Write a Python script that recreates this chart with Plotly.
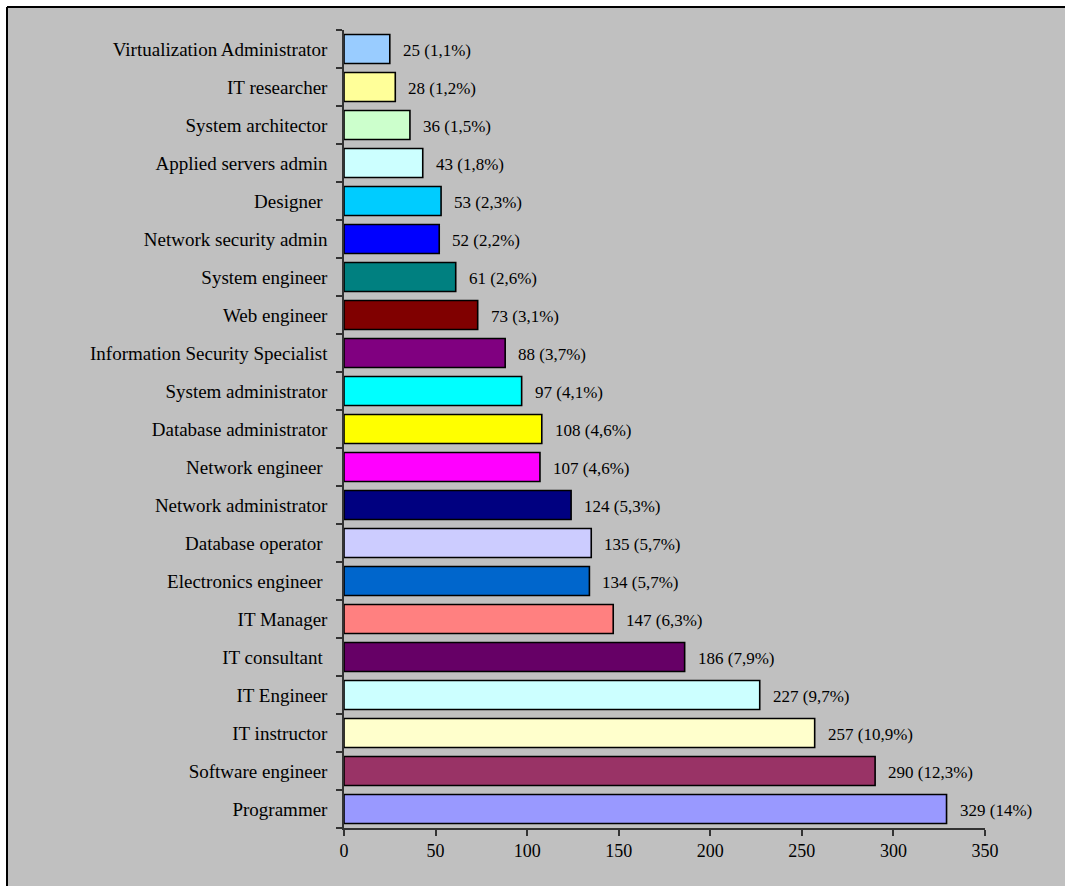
import plotly.graph_objects as go

categories = [
    "Programmer", "Software engineer", "IT instructor", "IT Engineer", "IT consultant\u00a0",
    "IT Manager", "Electronics engineer\u00a0", "Database operator\u00a0", "Network administrator",
    "Network engineer\u00a0", "Database administrator", "System administrator",
    "Information Security Specialist", "Web engineer", "System engineer",
    "Network security admin", "Designer\u00a0", "Applied servers admin", "System architector",
    "IT researcher", "Virtualization Administrator",
]
values = [329, 290, 257, 227, 186, 147, 134, 135, 124, 107, 108, 97, 88, 73, 61, 52, 53, 43, 36, 28, 25]
percents = ["14%", "12,3%", "10,9%", "9,7%", "7,9%", "6,3%", "5,7%", "5,7%", "5,3%", "4,6%", "4,6%",
            "4,1%", "3,7%", "3,1%", "2,6%", "2,2%", "2,3%", "1,8%", "1,5%", "1,2%", "1,1%"]
colors = ["#9999FF", "#993366", "#FFFFCC", "#CCFFFF", "#660066", "#FF8080", "#0066CC", "#CCCCFF",
          "#000080", "#FF00FF", "#FFFF00", "#00FFFF", "#800080", "#800000", "#008080", "#0000FF",
          "#00CCFF", "#CCFFFF", "#CCFFCC", "#FFFF99", "#99CCFF"]
x_ticks = [0, 50, 100, 150, 200, 250, 300, 350]

W, H = 1065, 886
ML, MR, MT, MB = 344, 80, 30, 58
PW, PH = W - ML - MR, H - MT - MB


def px_x(p):
    return (p - ML) / PW


def px_y(p):
    return (H - MB - p) / PH


fig = go.Figure(go.Bar(
    x=values, y=categories, orientation="h",
    marker=dict(color=colors, line=dict(color="black", width=1.6)),
    width=0.76, hoverinfo="skip",
))

for c, v, p in zip(categories, values, percents):
    fig.add_annotation(x=v, y=c, text=f"{v} ({p})", showarrow=False, xanchor="left",
                       xshift=11, yshift=-1,
                       font=dict(family="Liberation Serif", size=17, color="black"))

shapes = [
    dict(type="rect", xref="paper", yref="paper", x0=px_x(7), x1=px_x(W + 5), y0=px_y(H + 5), y1=px_y(7),
         fillcolor="#C0C0C0", line=dict(width=0), layer="below"),
    dict(type="line", xref="paper", yref="paper", x0=px_x(7), x1=px_x(W + 5), y0=px_y(7), y1=px_y(7),
         line=dict(color="black", width=2), layer="below"),
    dict(type="line", xref="paper", yref="paper", x0=px_x(7), x1=px_x(7), y0=px_y(7), y1=px_y(H + 5),
         line=dict(color="black", width=2), layer="below"),
]

fig.update_layout(
    width=W, height=H, margin=dict(l=ML, r=MR, t=MT, b=MB),
    paper_bgcolor="white", plot_bgcolor="rgba(0,0,0,0)",
    showlegend=False, shapes=shapes,
    font=dict(family="Liberation Serif", color="black"),
    xaxis=dict(range=[0, 350], tickvals=x_ticks, showgrid=False, zeroline=False,
               showline=True, linecolor="#333333", linewidth=1.5,
               ticks="outside", ticklen=6, tickcolor="#333333", tickwidth=1.5,
               tickfont=dict(family="Liberation Serif", size=18)),
    yaxis=dict(type="category", categoryorder="array", categoryarray=categories,
               range=[-0.5, len(categories) - 0.5], showgrid=False, zeroline=False,
               showline=True, linecolor="#333333", linewidth=1.5,
               ticks="outside", tickson="boundaries", ticklen=6, tickcolor="#333333", tickwidth=1.5,
               ticklabelstandoff=11,
               tickfont=dict(family="Liberation Serif", size=19)),
)

fig.write_html("out.html")
